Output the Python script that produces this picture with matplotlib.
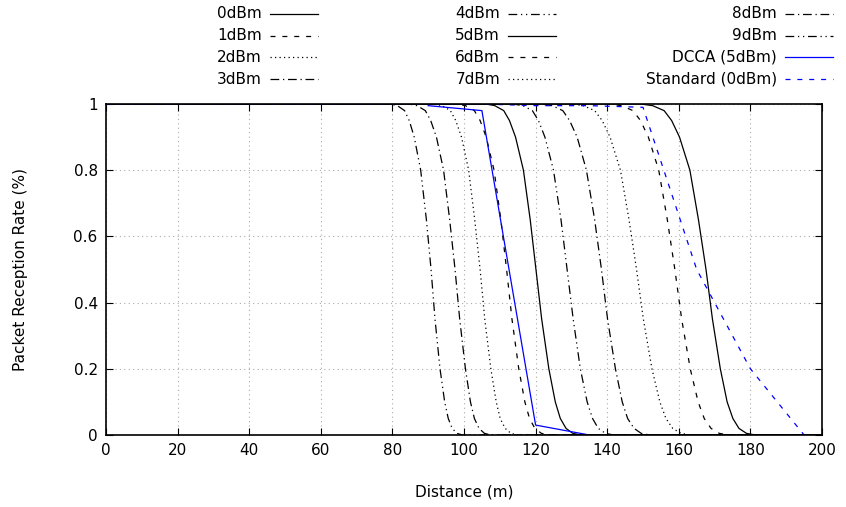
import matplotlib
matplotlib.use("Agg")
import matplotlib.pyplot as plt
from matplotlib.lines import Line2D

# reception rate levels every power curve passes through
prr_levels = [1.0, 1.0, 0.995, 0.98, 0.95, 0.9, 0.8, 0.65, 0.5,
              0.35, 0.2, 0.1, 0.05, 0.02, 0.005, 0.0, 0.0]

# distance (m) at which each tx power curve reaches the levels above
dist_0dbm = [0, 106.1, 108.6, 111.1, 112.7, 114.4, 116.6, 118.5, 120.1,
             121.7, 123.7, 125.5, 126.9, 128.5, 130.4, 132.6, 200]
dist_1dbm = [0, 97.9, 100.4, 102.9, 104.5, 106.2, 108.4, 110.3, 111.9,
             113.4, 115.3, 117.0, 118.3, 119.8, 121.6, 123.7, 200]
dist_2dbm = [0, 91.6, 93.9, 96.2, 97.7, 99.3, 101.3, 103.0, 104.5,
             105.8, 107.5, 109.0, 110.1, 111.5, 113.1, 114.9, 200]
dist_3dbm = [0, 84.6, 86.9, 89.2, 90.7, 92.3, 94.3, 96.0, 97.5,
             98.8, 100.4, 101.8, 102.9, 104.2, 105.7, 107.5, 200]
dist_4dbm = [0, 79.3, 81.4, 83.4, 84.7, 86.1, 87.9, 89.5, 90.8,
             91.9, 93.3, 94.6, 95.6, 96.7, 98.0, 99.6, 200]
dist_5dbm = [0, 149.4, 152.7, 155.9, 158.0, 160.2, 163.1, 165.5, 167.6,
             169.4, 171.6, 173.5, 175.1, 176.8, 178.9, 181.4, 200]
dist_6dbm = [0, 140.7, 144.0, 147.2, 149.3, 151.5, 154.4, 156.8, 158.9,
             160.8, 163.2, 165.4, 167.1, 169.0, 171.3, 173.9, 200]
dist_7dbm = [0, 130.0, 133.3, 136.5, 138.6, 140.8, 143.7, 146.1, 148.2,
             150.1, 152.5, 154.7, 156.4, 158.3, 160.6, 163.2, 200]
dist_8dbm = [0, 121.6, 124.6, 127.6, 129.5, 131.6, 134.2, 136.5, 138.4,
             140.1, 142.3, 144.2, 145.7, 147.5, 149.5, 151.9, 200]
dist_9dbm = [0, 113.7, 116.4, 119.1, 120.8, 122.6, 125.0, 127.1, 128.8,
             130.5, 132.5, 134.4, 135.9, 137.5, 139.5, 141.8, 200]

power_labels = ["0dBm", "1dBm", "2dBm", "3dBm", "4dBm",
                "5dBm", "6dBm", "7dBm", "8dBm", "9dBm"]
power_dists = [dist_0dbm, dist_1dbm, dist_2dbm, dist_3dbm, dist_4dbm,
               dist_5dbm, dist_6dbm, dist_7dbm, dist_8dbm, dist_9dbm]

dcca_dist = [90, 105, 120, 135]
dcca_prr = [0.995, 0.98, 0.03, 0.0]

std_dist = [0, 105, 120, 135, 150, 165, 180, 195]
std_prr = [1.0, 1.0, 0.995, 0.995, 0.99, 0.5, 0.2, 0.0]

x_ticks = [0, 20, 40, 60, 80, 100, 120, 140, 160, 180, 200]
y_ticks = [0, 0.2, 0.4, 0.6, 0.8, 1]
y_tick_labels = ["0", "0.2", "0.4", "0.6", "0.8", "1"]

# gnuplot-like dash cycle: solid, dashed, dotted, dash-dot, dash-dot-dot
dash_cycle = ["-", (0, (4, 5.5)), (0, (1, 2.6)), (0, (7, 3, 1, 3)), (0, (7, 3, 1, 3, 1, 3))]

W, H = 846, 507
plt.rcParams["font.family"] = "DejaVu Sans"
plt.rcParams["font.size"] = 11

fig = plt.figure(figsize=(W / 100, H / 100), dpi=100)
ax = fig.add_axes([106 / W, 1 - 435 / H, (822 - 106) / W, (435 - 104) / H])

entries = []  # (label, color, linestyle) for the key
for i, (lab, xs) in enumerate(zip(power_labels, power_dists)):
    ax.plot(xs, prr_levels, color="black", lw=0.9, linestyle=dash_cycle[i % 5])
    entries.append((lab, "black", dash_cycle[i % 5]))

ax.plot(dcca_dist, dcca_prr, color="#0000ff", lw=0.9)
entries.append(("DCCA (5dBm)", "#0000ff", "-"))
ax.plot(std_dist, std_prr, color="#0000ff", lw=0.9, linestyle=dash_cycle[1])
entries.append(("Standard (0dBm)", "#0000ff", dash_cycle[1]))

ax.set_xlim(0, 200)
ax.set_ylim(0, 1)
ax.set_xticks(x_ticks)
ax.set_yticks(y_ticks)
ax.set_yticklabels(y_tick_labels)
ax.tick_params(direction="in", top=True, right=True, length=5, width=0.8, pad=6)
ax.grid(True, color="#aaaaaa", linestyle=(0, (1, 3)), lw=0.8)
for sp in ax.spines.values():
    sp.set_linewidth(1.2)

ax.set_xlabel("Distance (m)", labelpad=19)
ax.set_ylabel("Packet Reception Rate (%)", labelpad=33)

# key above the plot: 3 columns, text right aligned, sample to its right
col_text_right = [262, 500, 777]
row_y = [14, 36, 57, 79]
for k, (lab, col_c, ls) in enumerate(entries):
    col, row = divmod(k, 4)
    xr = col_text_right[col]
    yc = row_y[row]
    fig.text(xr / W, 1 - yc / H, lab, ha="right", va="center", fontsize=11)
    fig.add_artist(Line2D([(xr + 8) / W, (xr + 56) / W], [1 - yc / H, 1 - yc / H],
                          transform=fig.transFigure, color=col_c, lw=0.9,
                          linestyle=ls))

fig.savefig("out.png", dpi=100)
